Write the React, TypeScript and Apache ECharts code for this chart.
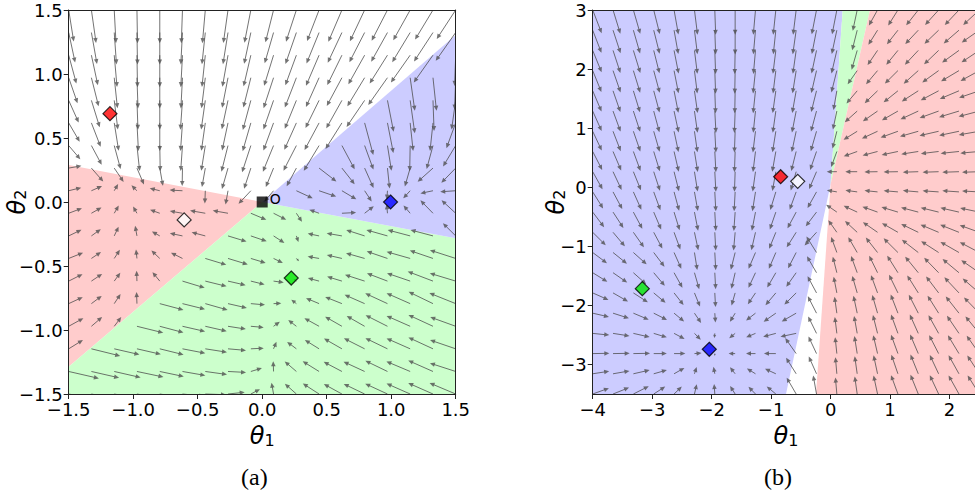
import React, { useEffect, useRef } from 'react';
import * as echarts from 'echarts';

// ---------------- Panel (a) ----------------
const A_TICKS = [-1.5, -1.0, -0.5, 0.0, 0.5, 1.0, 1.5];
const A_COLS = [-1.5, -1.324, -1.147, -0.971, -0.794, -0.618, -0.441, -0.265, -0.088, 0.088, 0.265, 0.441, 0.618, 0.794, 0.971, 1.147, 1.324, 1.5];
const A_ROWS = [1.5, 1.324, 1.147, 0.971, 0.794, 0.618, 0.441, 0.265, 0.088, -0.088, -0.265, -0.441, -0.618, -0.794, -0.971, -1.147, -1.324, -1.5];
// arrow direction (degrees, 0 = +theta1, 90 = +theta2), rows top -> bottom
const A_ANGLE = [
  [-81, -82, -87, -89, -90, -92, -95, -98, -101, -104, -108, -111, -113, -115, -117, -119, -121, -123],
  [-78, -80, -86, -89, -90, -93, -96, -99, -102, -106, -109, -112, -115, -117, -119, -121, -123, -125],
  [-75, -78, -85, -89, -90, -93, -96, -100, -103, -107, -110, -113, -116, -119, -122, -125, -125, -92],
  [-71, -76, -84, -88, -90, -93, -97, -101, -104, -108, -111, -114, -118, -121, -125, -82, -84, -92],
  [-66, -73, -83, -88, -90, -94, -98, -102, -105, -109, -112, -116, -119, -124, -79, -82, -88, -98],
  [-60, -69, -81, -87, -90, -94, -98, -102, -106, -110, -114, -118, -122, -75, -79, -84, -96, -110],
  [-50, -62, -75, -84, -89, -94, -99, -104, -108, -112, -117, -121, -62, -70, -81, -91, -105, -121],
  [10, -49, -56, -67, -80, -91, -100, -106, -108, -112, -118, -38, -52, -66, -84, -106, -138, -134],
  [14, 24, 60, 135, 166, 177, -92, -100, -133, -130, -25, -19, -31, -57, -94, -132, -168, -176],
  [21, 30, 60, 120, 160, 170, 170, 170, -23, -27, -57, 160, 3, 38, 95, 130, 134, 137],
  [26, 36, 65, 100, 150, 168, 165, -17, -19, -33, -71, 168, 170, 162, 164, 165, 165, 135],
  [22, 34, 57, 96, 136, 153, -17, -17, -17, -26, -45, 170, 167, 164, 161, 164, 161, 162],
  [27, 34, 54, 92, 129, -17, -14, -13, -14, -8, 140, 165, 163, 162, 159, 161, 159, 163],
  [25, 37, 57, 92, -15, -14, -16, -13, -5, 2, 142, 157, 158, 156, 155, 156, 154, 158],
  [29, 41, 53, -14, -15, -13, -13, -9, -5, 36, 142, 151, 150, 150, 153, 156, 155, 160],
  [32, -14, -13, -13, -14, -11, -9, -5, 3, 68, 143, 148, 150, 153, 154, 156, 155, 161],
  [-13, -13, -13, -12, -12, -10, -8, -3, 17, 92, 139, 148, 152, 155, 154, 157, 156, 162],
  [-12, -12, -11, -10, -9, -6, -2, 6, 28, 100, 138, 147, 151, 154, 155, 156, 156, 157],
];
// arrow magnitude (hundredths of a theta unit)
const A_LEN = [
  [25, 26, 26, 26, 26, 26, 26, 26, 26, 26, 26, 26, 27, 27, 27, 27, 27, 27],
  [24, 25, 25, 25, 25, 25, 25, 25, 25, 25, 26, 26, 26, 26, 26, 27, 27, 27],
  [23, 24, 25, 25, 25, 25, 25, 25, 25, 25, 25, 26, 26, 26, 26, 26, 26, 24],
  [21, 23, 24, 24, 24, 24, 24, 24, 24, 25, 25, 25, 25, 26, 26, 26, 26, 25],
  [19, 22, 23, 23, 23, 23, 23, 23, 24, 24, 24, 24, 25, 25, 25, 26, 24, 23],
  [17, 20, 22, 22, 22, 22, 22, 22, 23, 23, 23, 24, 24, 26, 24, 22, 22, 21],
  [14, 17, 19, 20, 20, 20, 20, 21, 22, 22, 22, 23, 21, 20, 20, 20, 19, 19],
  [10, 14, 13, 14, 14, 14, 15, 17, 17, 16, 16, 17, 16, 17, 16, 15, 16, 16],
  [10, 9, 6, 6, 8, 10, 10, 11, 14, 11, 14, 14, 13, 10, 7, 8, 10, 12],
  [11, 9, 7, 6, 8, 10, 12, 12, 13, 11, 8, 8, 11, 9, 7, 8, 14, 15],
  [11, 9, 8, 8, 7, 10, 11, 15, 13, 10, 5, 9, 12, 15, 17, 18, 18, 14],
  [12, 9, 8, 7, 9, 10, 17, 16, 12, 8, 3, 9, 12, 15, 17, 19, 19, 21],
  [12, 10, 8, 8, 9, 18, 17, 14, 11, 8, 3, 9, 12, 16, 17, 19, 21, 21],
  [12, 10, 9, 9, 19, 18, 18, 15, 11, 6, 5, 11, 14, 17, 19, 20, 21, 22],
  [13, 11, 9, 21, 19, 18, 17, 14, 10, 6, 8, 13, 15, 16, 19, 20, 21, 21],
  [13, 23, 20, 19, 19, 18, 17, 14, 10, 6, 9, 13, 16, 18, 19, 20, 21, 21],
  [24, 22, 21, 21, 19, 18, 17, 14, 9, 8, 12, 15, 16, 18, 19, 20, 21, 21],
  [23, 22, 21, 20, 19, 17, 16, 13, 8, 9, 12, 15, 16, 18, 19, 20, 21, 22],
];
const A_RED_REGION = [[0, 0], [-1.5, 0.29], [-1.5, -1.287]];
const A_GREEN_REGION = [[0, 0], [-1.5, -1.287], [-1.5, -1.5], [1.5, -1.5], [1.5, -0.284]];
const A_BLUE_REGION = [[0, 0], [1.5, -0.284], [1.5, 1.305]];
const A_POINTS = [
  { name: 'red', value: [-1.18, 0.69], color: '#ff0000' },
  { name: 'white', value: [-0.605, -0.14], color: '#ffffff' },
  { name: 'blue', value: [0.995, 0.0], color: '#0000ff' },
  { name: 'green', value: [0.225, -0.594], color: '#00e600' },
];
const A_ORIGIN = [0, 0];

// ---------------- Panel (b) ----------------
const B_XTICKS = [-4, -3, -2, -1, 0, 1, 2];
const B_YTICKS = [-3, -2, -1, 0, 1, 2, 3];
const B_COLS = [-4, -3.658, -3.316, -2.974, -2.632, -2.289, -1.947, -1.605, -1.263, -0.921, -0.579, -0.237, 0.105, 0.447, 0.789, 1.132, 1.474, 1.816, 2.158, 2.5];
const B_ROWS = [3, 2.658, 2.316, 1.974, 1.632, 1.289, 0.947, 0.605, 0.263, -0.079, -0.421, -0.763, -1.105, -1.447, -1.789, -2.132, -2.474, -2.816, -3.158, -3.5];
const B_ANGLE = [
  [-69, -73, -74, -76, -80, -83, -88, -90, -95, -96, -97, -101, -101, -102, -119, -122, -128, -132, -133, -137],
  [-69, -72, -74, -76, -80, -83, -88, -90, -95, -96, -98, -101, -102, -104, -122, -128, -133, -136, -139, -145],
  [-68, -72, -73, -76, -79, -83, -88, -91, -95, -97, -98, -102, -103, -106, -124, -129, -133, -136, -144, -146],
  [-68, -71, -73, -75, -79, -83, -88, -91, -96, -97, -99, -103, -104, -125, -130, -135, -138, -144, -149, -151],
  [-67, -71, -73, -75, -79, -82, -88, -91, -96, -98, -100, -104, -100, -130, -136, -141, -147, -152, -157, -161],
  [-66, -70, -72, -75, -78, -82, -87, -92, -96, -98, -101, -105, -102, -138, -145, -150, -155, -160, -163, -165],
  [-65, -69, -71, -74, -78, -82, -87, -92, -97, -99, -102, -106, -104, -148, -155, -160, -164, -167, -168, -170],
  [-63, -67, -70, -73, -77, -81, -87, -92, -97, -100, -104, -109, -110, -160, -165, -168, -171, -173, -174, -175],
  [-61, -65, -68, -72, -76, -81, -87, -92, -98, -100, -106, -113, 180, 180, -179, -179, -178, -178, -178, -178],
  [-58, -62, -66, -70, -75, -80, -87, -93, -99, -107, -110, -119, 170, 172, 174, 175, 175, 176, 176, 177],
  [-53, -57, -62, -67, -73, -79, -87, -94, -101, -109, -118, -127, 145, 155, 160, 163, 165, 166, 167, 168],
  [-45, -50, -55, -62, -70, -78, -87, -95, -103, -112, -122, -132, 125, 137, 145, 150, 154, 157, 158, 160],
  [-37, -39, -42, -53, -66, -81, -87, -104, -113, -113, -117, 122, 110, 120, 128, 135, 142, 147, 150, 152],
  [-32, -35, -42, -50, -61, -74, -87, -103, -115, -120, -125, 120, 104, 110, 116, 122, 129, 134, 140, 145],
  [-24, -30, -33, -40, -52, -68, -87, -106, -124, -130, -135, 118, 101, 106, 110, 116, 122, 127, 133, 139],
  [-13, -18, -23, -27, -40, -56, -86, -121, -142, -145, -150, 117, 98, 102, 106, 111, 117, 122, 128, 134],
  [-6, -9, -13, -17, -28, -45, -95, -140, -157, -165, -168, 116, 97, 100, 104, 110, 114, 119, 124, 129],
  [1, 1, 1, 0, 0, 5, -90, 180, 180, 180, 125, 115, 96, 99, 103, 110, 113, 117, 121, 125],
  [9, 10, 13, 16, 30, 72, 101, 128, 148, 155, 122, 114, 95, 98, 102, 109, 112, 115, 119, 123],
  [20, 22, 27, 33, 44, 77, 94, 122, 134, 140, 120, 100, 95, 98, 102, 110, 112, 115, 119, 122],
];
const B_LEN = [
  [42, 42, 42, 42, 42, 42, 42, 42, 42, 42, 42, 42, 42, 36, 30, 31, 33, 34, 35, 37],
  [41, 41, 41, 41, 41, 41, 41, 41, 41, 41, 41, 41, 41, 35, 29, 30, 32, 33, 34, 36],
  [40, 40, 40, 40, 40, 40, 40, 40, 40, 40, 40, 40, 40, 34, 30, 31, 33, 34, 35, 36],
  [39, 39, 39, 39, 39, 39, 39, 39, 39, 39, 39, 39, 38, 28, 30, 31, 33, 34, 35, 36],
  [38, 38, 38, 38, 38, 38, 38, 38, 38, 38, 38, 37, 33, 28, 30, 31, 33, 34, 35, 36],
  [37, 37, 37, 37, 37, 37, 37, 37, 37, 37, 37, 36, 32, 28, 30, 31, 33, 34, 35, 36],
  [36, 36, 36, 36, 36, 36, 36, 36, 36, 36, 36, 35, 30, 27, 29, 31, 32, 33, 34, 35],
  [35, 35, 35, 35, 35, 35, 35, 35, 35, 35, 34, 33, 28, 24, 26, 28, 29, 30, 31, 32],
  [34, 34, 34, 34, 34, 34, 34, 34, 34, 33, 33, 32, 17, 20, 22, 24, 26, 27, 28, 29],
  [33, 33, 33, 33, 33, 33, 33, 33, 33, 32, 32, 31, 17, 20, 22, 24, 26, 27, 28, 29],
  [32, 32, 32, 32, 32, 32, 32, 32, 32, 31, 31, 30, 22, 25, 27, 29, 30, 31, 32, 33],
  [31, 31, 31, 31, 31, 31, 31, 31, 31, 30, 30, 30, 25, 28, 30, 31, 32, 33, 34, 35],
  [30, 30, 30, 30, 30, 30, 30, 30, 30, 30, 30, 32, 28, 30, 32, 34, 35, 35, 36, 37],
  [29, 29, 29, 29, 29, 29, 28, 28, 28, 29, 29, 32, 28, 30, 32, 34, 35, 35, 36, 37],
  [29, 29, 29, 26, 26, 25, 24, 22, 23, 27, 28, 32, 28, 30, 32, 34, 35, 35, 36, 37],
  [28, 28, 28, 25, 22, 20, 16, 17, 20, 25, 28, 32, 28, 30, 32, 34, 35, 35, 36, 37],
  [28, 28, 28, 23, 20, 15, 8, 13, 17, 22, 27, 32, 28, 30, 32, 34, 35, 35, 36, 37],
  [28, 28, 28, 22, 19, 12, 4, 11, 16, 20, 32, 32, 28, 30, 32, 34, 35, 35, 36, 37],
  [28, 28, 28, 23, 20, 12, 12, 14, 17, 20, 32, 32, 28, 30, 32, 34, 35, 35, 36, 37],
  [29, 29, 29, 23, 18, 17, 17, 16, 17, 20, 32, 32, 28, 30, 32, 34, 35, 35, 36, 37],
];
const B_BLUE_REGION = [[-4, 3], [0.203, 3], [0.0, 0.05], [-0.75, -3.5], [-4, -3.5]];
const B_GREEN_REGION = [[0.203, 3], [0.662, 3], [0.0, 0.05]];
const B_RED_REGION = [[0.662, 3], [2.5, 3], [2.5, -3.5], [-0.245, -3.5], [0.0, 0.05]];
const B_POINTS = [
  { name: 'red', value: [-0.84, 0.178], color: '#ff0000' },
  { name: 'white', value: [-0.553, 0.1], color: '#ffffff' },
  { name: 'green', value: [-3.166, -1.717], color: '#00e600' },
  { name: 'blue', value: [-2.04, -2.743], color: '#0000ff' },
];

const RED_FILL = 'rgb(255,204,204)';
const GREEN_FILL = 'rgb(204,255,204)';
const BLUE_FILL = 'rgb(204,204,255)';
const ARROW = 'rgba(75,75,75,0.78)';
const FONT = 'DejaVu Sans';

function buildArrows(cols: number[], rows: number[], ang: number[][], len: number[][]) {
  const out: number[][] = [];
  rows.forEach((y, j) => {
    cols.forEach((x, i) => {
      const a = (ang[j][i] * Math.PI) / 180;
      const l = len[j][i] / 100;
      out.push([x, y, l * Math.cos(a), l * Math.sin(a)]);
    });
  });
  return out;
}

const arrowRender = (params: any, api: any) => {
  const x = api.value(0), y = api.value(1), u = api.value(2), v = api.value(3);
  const p0 = api.coord([x, y]);
  const p1 = api.coord([x + u, y + v]);
  const dx = p1[0] - p0[0], dy = p1[1] - p0[1];
  const L = Math.hypot(dx, dy);
  if (L < 0.5) return { type: 'group', children: [] };
  const ux = dx / L, uy = dy / L;
  const hl = Math.min(5, L * 0.7);
  const hw = hl * 0.45;
  const bx = p1[0] - ux * hl, by = p1[1] - uy * hl;
  return {
    type: 'group',
    children: [
      { type: 'line', shape: { x1: p0[0], y1: p0[1], x2: bx + ux * 0.5, y2: by + uy * 0.5 }, style: { stroke: ARROW, lineWidth: 1 } },
      { type: 'polygon', shape: { points: [[p1[0], p1[1]], [bx - uy * hw, by + ux * hw], [bx + uy * hw, by - ux * hw]] }, style: { fill: ARROW } },
    ],
  };
};

function regionSeries(regions: { pts: number[][]; color: string }[], idx: number) {
  return {
    type: 'custom',
    xAxisIndex: idx,
    yAxisIndex: idx,
    z: 1,
    clip: true,
    silent: true,
    data: regions.map((r) => r.pts[0]),
    renderItem: (params: any, api: any) => {
      const r = regions[params.dataIndex];
      return { type: 'polygon', shape: { points: r.pts.map((p) => api.coord(p)) }, style: { fill: r.color } };
    },
  };
}

const fmtA = (v: number) => (v < 0 ? '\u2212' : '') + Math.abs(v).toFixed(1);
const fmtB = (v: number) => (v < 0 ? '\u2212' : '') + Math.abs(v).toFixed(0);

const nameStyle = {
  rich: {
    t: { fontSize: 24, fontStyle: 'italic', fontFamily: FONT, color: '#000', verticalAlign: 'bottom', lineHeight: 26 },
    s: { fontSize: 16, fontFamily: FONT, color: '#000', verticalAlign: 'bottom', lineHeight: 16 },
  },
};

function mainAxis(grid: number, min: number, max: number, ticks: number[], fmt: (v: number) => string, name: string, gap: number, margin: number) {
  return {
    type: 'value',
    gridIndex: grid,
    min,
    max,
    z: 10,
    name,
    nameLocation: 'middle',
    nameGap: gap,
    nameMoveOverlap: false,
    nameTextStyle: nameStyle,
    axisLine: { show: true, onZero: false, lineStyle: { color: '#222', width: 1 } },
    axisTick: { show: true, customValues: ticks, length: 5, inside: false, lineStyle: { color: '#222', width: 1 } },
    axisLabel: { show: true, customValues: ticks, formatter: fmt, color: '#000', fontSize: 18, lineHeight: 15, fontFamily: FONT, margin },
    splitLine: { show: false },
  };
}

function frameAxis(grid: number, min: number, max: number, position: string) {
  return {
    type: 'value',
    gridIndex: grid,
    min,
    max,
    position,
    z: 10,
    axisLine: { show: true, onZero: false, lineStyle: { color: '#222', width: 1 } },
    axisTick: { show: false },
    axisLabel: { show: false },
    splitLine: { show: false },
  };
}

export default function App() {
  const ref = useRef<HTMLDivElement>(null);
  useEffect(() => {
    const chart = echarts.init(ref.current!, null, { renderer: 'svg' });
    const option: any = {
      animation: false,
      backgroundColor: '#ffffff',
      grid: [
        { left: 68.7, top: 10, width: 387, height: 384, containLabel: false, outerBoundsMode: 'none' },
        { left: 592.7, top: 10, width: 386.6, height: 384, containLabel: false, outerBoundsMode: 'none' },
      ],
      xAxis: [
        mainAxis(0, -1.5, 1.5, A_TICKS, fmtA, '{t|θ}{s|1}', 28, 8),
        mainAxis(1, -4, 2.5, B_XTICKS, fmtB, '{t|θ}{s|1}', 28, 8),
        frameAxis(0, -1.5, 1.5, 'top'),
        frameAxis(1, -4, 2.5, 'top'),
      ],
      yAxis: [
        mainAxis(0, -1.5, 1.5, A_TICKS, fmtA, '{t|θ}{s|2}', 40, 6),
        mainAxis(1, -3.5, 3, B_YTICKS, fmtB, '{t|θ}{s|2}', 25, 6),
        frameAxis(0, -1.5, 1.5, 'right'),
        frameAxis(1, -3.5, 3, 'right'),
      ],
      series: [
        regionSeries([
          { pts: A_RED_REGION, color: RED_FILL },
          { pts: A_GREEN_REGION, color: GREEN_FILL },
          { pts: A_BLUE_REGION, color: BLUE_FILL },
        ], 0),
        regionSeries([
          { pts: B_BLUE_REGION, color: BLUE_FILL },
          { pts: B_GREEN_REGION, color: GREEN_FILL },
          { pts: B_RED_REGION, color: RED_FILL },
        ], 1),
        {
          type: 'custom', xAxisIndex: 0, yAxisIndex: 0, z: 2, clip: true, silent: true,
          data: buildArrows(A_COLS, A_ROWS, A_ANGLE, A_LEN), renderItem: arrowRender,
        },
        {
          type: 'custom', xAxisIndex: 1, yAxisIndex: 1, z: 2, clip: true, silent: true,
          data: buildArrows(B_COLS, B_ROWS, B_ANGLE, B_LEN), renderItem: arrowRender,
        },
        {
          type: 'scatter', xAxisIndex: 0, yAxisIndex: 0, z: 3, symbol: 'diamond', symbolSize: 14,
          data: A_POINTS.map((p) => ({ value: p.value, itemStyle: { color: p.color, borderColor: '#000', borderWidth: 1.2 } })),
        },
        {
          type: 'scatter', xAxisIndex: 0, yAxisIndex: 0, z: 4, symbol: 'rect', symbolSize: 11,
          itemStyle: { color: '#000' },
          label: {
            show: true, formatter: 'O', position: 'right', distance: 2, offset: [0, -3],
            fontSize: 14, fontFamily: FONT, color: '#000', textBorderWidth: 0, opacity: 1,
          },
          data: [A_ORIGIN],
        },
        {
          type: 'scatter', xAxisIndex: 1, yAxisIndex: 1, z: 3, symbol: 'diamond', symbolSize: 14,
          data: B_POINTS.map((p) => ({ value: p.value, itemStyle: { color: p.color, borderColor: '#000', borderWidth: 1.2 } })),
        },
      ],
      graphic: [
        { type: 'text', left: 241, top: 465, style: { text: '(a)', font: 'normal 24px "Liberation Serif", serif', fill: '#000' } },
        { type: 'text', left: 764, top: 465, style: { text: '(b)', font: 'normal 24px "Liberation Serif", serif', fill: '#000' } },
      ],
    };
    chart.setOption(option);
    return () => chart.dispose();
  }, []);
  return <div ref={ref} style={{ position: 'fixed', left: 0, top: 0, width: 975, height: 491, background: '#fff' }} />;
}
